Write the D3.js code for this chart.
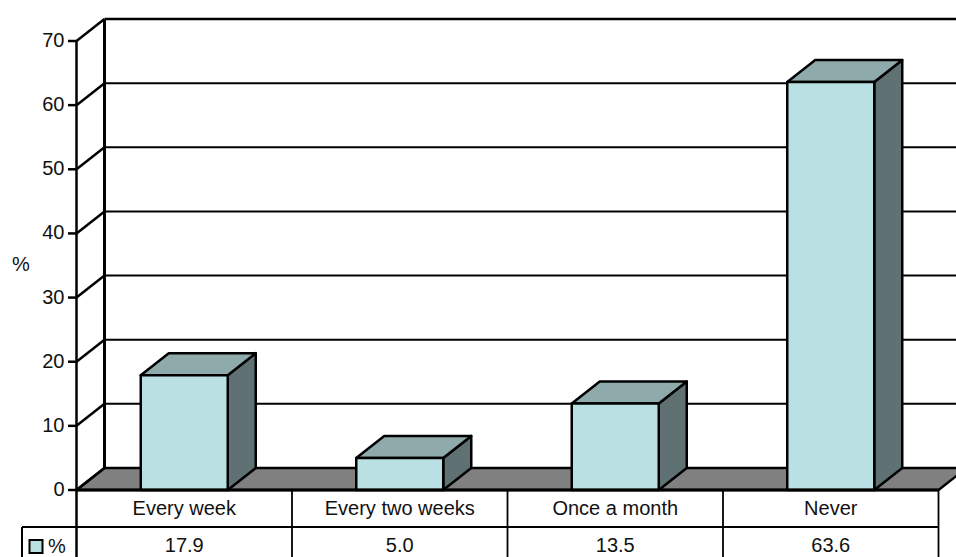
<!DOCTYPE html>
<html><head><meta charset="utf-8"><script src="https://cdn.jsdelivr.net/npm/d3@7"></script>
<style>html,body{margin:0;padding:0;background:#fff;overflow:hidden}svg{display:block}text{font-family:"Liberation Sans",Arial,sans-serif;fill:#111}</style></head>
<body><svg id="c" width="956" height="557"></svg>
<script>
const categories=["Every week","Every two weeks","Once a month","Never"];
const values=[17.9,5.0,13.5,63.6];
const valueLabels=["17.9","5.0","13.5","63.6"];
const yTicks=[0,10,20,30,40,50,60,70];
const seriesName="%";
const colors={front:"#b9e0e3",top:"#8faaab",side:"#5f7172",floor:"#808080"};

const svg=d3.select("#c");
const W=956,H=557,dx=28,dy=22;
const x=d3.scaleBand().domain(categories).range([76.5,938.5]).paddingInner(0).paddingOuter(0);
const y=d3.scaleLinear().domain([0,70]).range([490,41]);
const barW=87, fs=20;
const ink="#000";
const line=(a,b,c,d,w)=>svg.append("line").attr("x1",a).attr("y1",b).attr("x2",c).attr("y2",d).attr("stroke",ink).attr("stroke-width",w);

const poly=(pts,fill)=>svg.append("polygon").attr("points",pts.map(p=>p.join(",")).join(" ")).attr("fill",fill).attr("stroke",ink).attr("stroke-width",2.5).attr("stroke-linejoin","round");
poly([[76.5,y(0)],[76.5+dx,y(0)-dy],[938.5+dx,y(0)-dy],[938.5,y(0)]],colors.floor);

yTicks.forEach(t=>{
  if(t>0) line(76.5+dx,y(t)-dy,W,y(t)-dy,t===70?2.5:2);
  line(76.5,y(t),76.5+dx,y(t)-dy,2.5);
  line(68,y(t),76.5,y(t),2.5);
});
line(76.5+dx,y(70)-dy,76.5+dx,y(0)-dy,3);
line(76.5,y(70),76.5,H,2.5);

const bars=svg.selectAll("g.bar").data(categories.map((c,i)=>({c,v:values[i]}))).join("g").attr("class","bar");
bars.each(function(d){
  const g=d3.select(this);
  const l=x(d.c)+x.bandwidth()/2-barW/2, r=l+barW, t=y(d.v), b=y(0);
  const p=(pts,fill)=>g.append("polygon").attr("points",pts.map(q=>q.join(",")).join(" ")).attr("fill",fill).attr("stroke",ink).attr("stroke-width",2.5).attr("stroke-linejoin","round");
  p([[r,t],[r+dx,t-dy],[r+dx,b-dy],[r,b]],colors.side);
  p([[l,t],[l+dx,t-dy],[r+dx,t-dy],[r,t]],colors.top);
  p([[l,t],[r,t],[r,b],[l,b]],colors.front);
});
line(76.5,y(0),938.5,y(0),3);

svg.selectAll("text.yt").data(yTicks).join("text").attr("class","yt")
  .attr("x",64.5).attr("y",d=>y(d)+6).attr("text-anchor","end").attr("font-size",fs).text(d=>d);
svg.append("text").attr("x",21).attr("y",271).attr("text-anchor","middle").attr("font-size",fs).text(seriesName);

const rowTop=527;
x.domain().forEach(c=>line(x(c)+x.bandwidth(),y(0),x(c)+x.bandwidth(),H,1.8));
line(22,rowTop,938.5,rowTop,1.8);
line(22,rowTop,22,H,2);
svg.selectAll("text.cat").data(categories).join("text").attr("class","cat")
  .attr("x",d=>x(d)+x.bandwidth()/2).attr("y",515).attr("text-anchor","middle").attr("font-size",fs).text(d=>d);
svg.selectAll("text.val").data(valueLabels).join("text").attr("class","val")
  .attr("x",(d,i)=>x(categories[i])+x.bandwidth()/2).attr("y",552).attr("text-anchor","middle").attr("font-size",fs).text(d=>d);
svg.append("rect").attr("x",29.5).attr("y",540).attr("width",13).attr("height",13).attr("fill",colors.front).attr("stroke",ink).attr("stroke-width",2);
svg.append("text").attr("x",48).attr("y",553).attr("font-size",fs).text(seriesName);
</script></body></html>
